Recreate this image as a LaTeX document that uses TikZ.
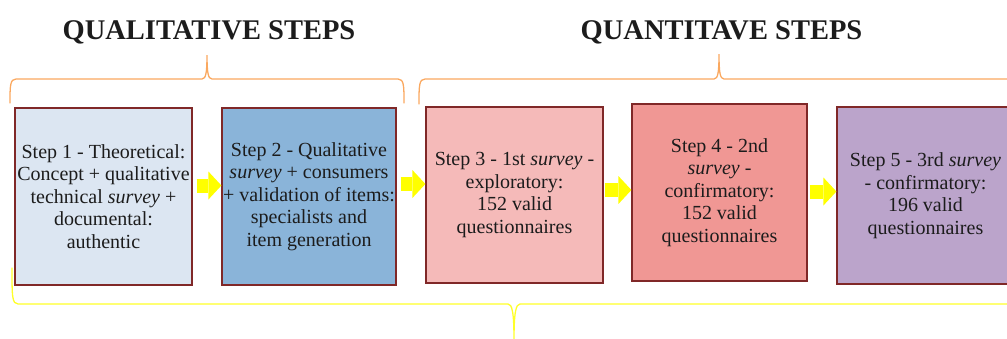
\documentclass[tikz,border=0pt]{standalone}
\usepackage{fontspec}
\setmainfont{Liberation Serif}
\usetikzlibrary{arrows.meta}
\definecolor{fillA}{RGB}{220,230,242}
\definecolor{fillB}{RGB}{138,180,217}
\definecolor{fillC}{RGB}{245,186,185}
\definecolor{fillD}{RGB}{240,151,148}
\definecolor{fillE}{RGB}{187,164,203}
\definecolor{boxline}{RGB}{128,40,40}
\definecolor{txt}{RGB}{28,28,28}
\definecolor{bracO}{RGB}{250,168,95}
\definecolor{bracY}{RGB}{255,255,40}
\definecolor{arrY}{RGB}{255,255,0}
\begin{document}
\begin{tikzpicture}[x=1pt,y=-1pt,
  stepbox/.style={draw=boxline, line width=1.2pt, inner sep=0pt, align=center,
    text=txt, font=\fontsize{20}{22.5}\selectfont},
  title/.style={anchor=base, text=txt, font=\fontsize{28.5}{34}\selectfont\bfseries},
  blockarrow/.style={draw=arrY, line width=14pt,
    -{Triangle[length=13pt,width=28pt,line width=0pt]}},
  brace/.style={line width=1.3pt, line cap=round}]
\useasboundingbox (0,0) rectangle (1007,338);
\begin{scope}
\clip (0,0) rectangle (1007,338);
\node[title] (t1) at (209,39.5) {QUALITATIVE STEPS};
\node[title] (t2) at (721.5,39.5) {QUANTITAVE STEPS};
% braces
\draw[brace, bracO] (10,103) .. controls (10,86) and (10,79) .. (16,79) -- (202,79)
  .. controls (206,79) and (207,72) .. (207,55) .. controls (207,72) and (208,79) .. (212,79)
  -- (398,79) .. controls (404,79) and (404,86) .. (404,103);
\draw[brace, bracO] (419,104) .. controls (419,86) and (419,79) .. (425,79) -- (714,79)
  .. controls (718,79) and (719,72) .. (719,54) .. controls (719,72) and (720,79) .. (724,79)
  -- (1020,79);
\draw[brace, bracY] (12,268) .. controls (12,296) and (12,304) .. (18,304) -- (508,304)
  .. controls (512,304) and (514,312) .. (514,340) .. controls (514,312) and (516,304) .. (520,304)
  -- (1020,304);
% boxes
\node[stepbox, fill=fillA, minimum width=177pt, minimum height=177pt] (s1) at (103.5,196.5)
  {Step 1 - Theoretical:\\ Concept + qualitative\\ technical \textit{survey} +\\ documental:\\ authentic};
\node[stepbox, fill=fillB, minimum width=174pt, minimum height=177pt] (s2) at (309,196.5)
  {Step 2 - Qualitative\\ \textit{survey} + consumers\\ + validation of items:\\ specialists and\\ item generation};
\node[stepbox, fill=fillC, minimum width=177pt, minimum height=176pt] (s3) at (514.5,195)
  {Step 3 - 1st \textit{survey} -\\ exploratory:\\ 152 valid\\ questionnaires};
\node[stepbox, fill=fillD, minimum width=175pt, minimum height=177pt] (s4) at (719.5,192.5)
  {Step 4 - 2nd\\ \textit{survey} -\\ confirmatory:\\ 152 valid\\ questionnaires};
\node[stepbox, fill=fillE, minimum width=177pt, minimum height=177pt] (s5) at (925.5,195.5)
  {Step 5 - 3rd \textit{survey}\\ - confirmatory:\\ 196 valid\\ questionnaires};
% arrows
\draw[blockarrow, shorten <=4pt] ([yshift=11pt]s1.east) -- ([yshift=11pt]s2.west);
\draw[blockarrow, shorten <=4pt] ([yshift=12.5pt]s2.east) -- ([yshift=11pt]s3.west);
\draw[blockarrow, shorten <=1pt] ([yshift=5pt]s3.east) -- ([yshift=2.5pt]s4.west);
\draw[blockarrow, shorten <=2pt] ([yshift=1pt]s4.east) -- ([yshift=4pt]s5.west);
\end{scope}
\end{tikzpicture}
\end{document}
